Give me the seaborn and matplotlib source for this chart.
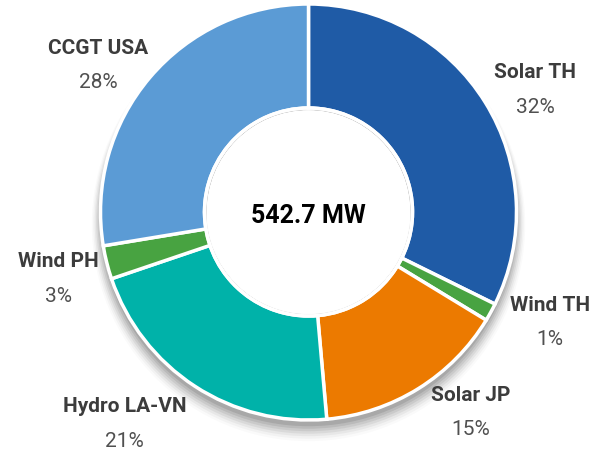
"""
Donut chart of installed capacity by asset (total 542.7 MW).
"""

import matplotlib
matplotlib.use("Agg")
import matplotlib.pyplot as plt
from matplotlib.patches import Circle
import numpy as np
import seaborn as sns

# capacity share (%) per asset, clockwise from 12 o'clock
ASSETS = ["Solar TH", "Wind TH", "Solar JP", "Hydro LA-VN", "Wind PH", "CCGT USA"]
SHARES = [32.3, 1.4, 14.9, 21.2, 2.6, 27.6]
PCT_LABELS = ["32%", "1%", "15%", "21%", "3%", "28%"]
TOTAL_LABEL = "542.7 MW"

COLORS = ["#1f5ba6", "#48a341", "#ec7a00", "#00b2a9", "#48a341", "#5b9bd5"]

# label anchors (axes fraction) for each asset name
LABEL_POS = {
    "Solar TH": (0.883, 0.838),
    "Wind TH": (0.907, 0.322),
    "Solar JP": (0.776, 0.122),
    "Hydro LA-VN": (0.206, 0.096),
    "Wind PH": (0.096, 0.418),
    "CCGT USA": (0.162, 0.893),
}

sns.set_theme(style="white")
plt.rcParams["font.family"] = ["Roboto", "DejaVu Sans"]

W, H = 606, 450
CX, CY, R = 308.5, 212.0, 208.0  # pixels, y measured from top

fig = plt.figure(figsize=(W / 100, H / 100), dpi=100)
ax = fig.add_axes([0, 0, 1, 1])

# soft drop shadow under the ring
for i, a in enumerate(np.linspace(0.09, 0.02, 7)):
    ax.add_patch(Circle((0, -0.03 - 0.005 * i), 1.0 + 0.007 * i,
                        color="black", alpha=a, lw=0, zorder=0))

ax.pie(
    SHARES,
    colors=COLORS,
    startangle=90,
    counterclock=False,
    radius=1.0,
    wedgeprops=dict(width=0.5, edgecolor="white", linewidth=2.5),
)

# hole with an inner shadow near its top edge
hole = Circle((0, 0), 0.49, facecolor="#d4d4d4", lw=0, zorder=3)
ax.add_patch(hole)
for i, d in enumerate(np.linspace(0.05, 0.0, 6)):
    c = Circle((0, -d), 0.49, facecolor="white", alpha=0.35 + 0.13 * i, lw=0, zorder=4)
    c.set_clip_path(hole)
    ax.add_patch(c)
ax.add_patch(Circle((0, 0), 0.5, fill=False, edgecolor="white", lw=2.5, zorder=5))

ax.text(0, -0.02, TOTAL_LABEL, ha="center", va="center", fontsize=18,
        fontweight="bold", color="black", zorder=6)

for name, pct in zip(ASSETS, PCT_LABELS):
    x, y = LABEL_POS[name]
    ax.text(x, y, name, transform=ax.transAxes, ha="center", va="center",
            fontsize=15, fontweight="bold", color="#3c3c3c")
    ax.text(x, y - 0.077, pct, transform=ax.transAxes, ha="center", va="center",
            fontsize=15, color="#505050")

ax.set_aspect("auto")
ax.set_xlim(-CX / R, (W - CX) / R)
ax.set_ylim(-(H - CY) / R, CY / R)
ax.axis("off")

fig.savefig("out.png", dpi=100)
plt.close(fig)
